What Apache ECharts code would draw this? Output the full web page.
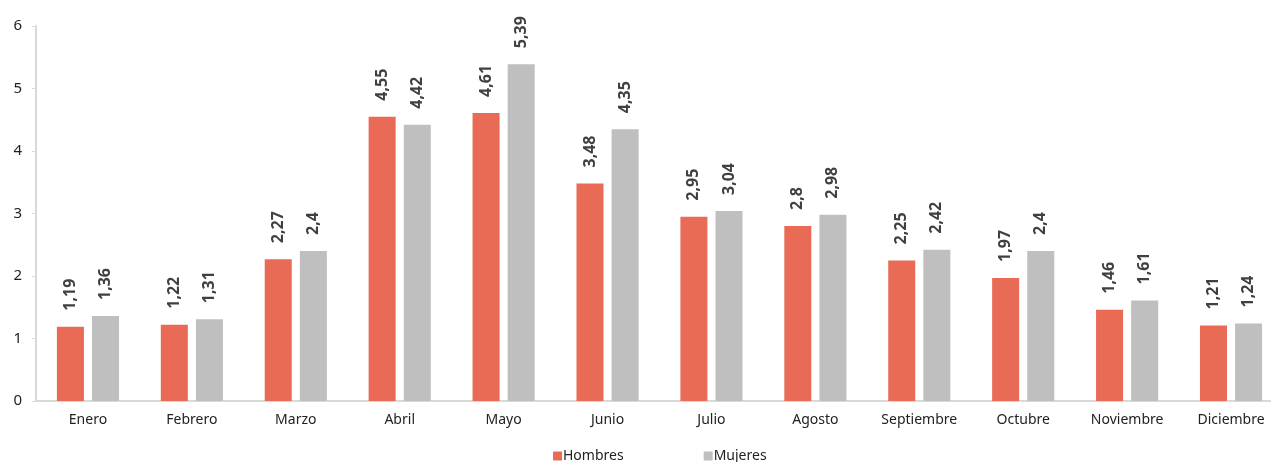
<!DOCTYPE html>
<html><head><meta charset="utf-8">
<script src="https://cdn.jsdelivr.net/npm/echarts@6/dist/echarts.min.js"></script>
<style>html,body{margin:0;padding:0;background:#fff;overflow:hidden}#c{width:1271px;height:462px}</style>
</head><body><div id="c"></div>
<script>
const categories = ['Enero','Febrero','Marzo','Abril','Mayo','Junio','Julio','Agosto','Septiembre','Octubre','Noviembre','Diciembre'];
const hombres = [1.19,1.22,2.27,4.55,4.61,3.48,2.95,2.8,2.25,1.97,1.46,1.21];
const mujeres = [1.36,1.31,2.4,4.42,5.39,4.35,3.04,2.98,2.42,2.4,1.61,1.24];
const yTicks = [0,1,2,3,4,5,6];

const font = '"Noto Sans", sans-serif';
const lbl = {
  show: true, position: 'top', rotate: 90, align: 'left', verticalAlign: 'middle',
  distance: 16, fontWeight: 'bold', fontSize: 16, color: '#404040', fontFamily: font,
  formatter: p => String(p.value).replace('.', ',')
};
const chart = echarts.init(document.getElementById('c'));
chart.setOption({
  animation: false,
  grid: { left: 36, width: 1247, top: 26, height: 375, containLabel: false, outerBoundsMode: 'none' },
  legend: {
    top: 444, left: 548, itemWidth: 9, itemHeight: 9, itemGap: 80,
    icon: 'rect', textStyle: { fontSize: 14, color: '#222', fontFamily: font, padding: [0,0,0,-4] },
    data: ['Hombres','Mujeres']
  },
  xAxis: {
    type: 'category', data: categories,
    axisLine: { lineStyle: { color: '#d9d9d9', width: 2 } },
    axisTick: { show: false },
    axisLabel: { fontSize: 14, color: '#222', fontFamily: font, margin: 12 }
  },
  yAxis: {
    type: 'value', min: yTicks[0], max: yTicks[yTicks.length-1], interval: 1,
    axisLine: { show: true, lineStyle: { color: '#d9d9d9', width: 2 } },
    axisTick: { show: true, length: 4, lineStyle: { color: '#d9d9d9' } },
    splitLine: { show: false },
    axisLabel: { fontSize: 15, color: '#222', fontFamily: font, margin: 14 }
  },
  series: [
    { name: 'Hombres', type: 'bar', data: hombres, barWidth: '26%', barGap: '30%',
      itemStyle: { color: '#E96A55' }, label: lbl },
    { name: 'Mujeres', type: 'bar', data: mujeres, barWidth: '26%',
      itemStyle: { color: '#BFBFBF' }, label: lbl }
  ]
});
</script></body></html>
